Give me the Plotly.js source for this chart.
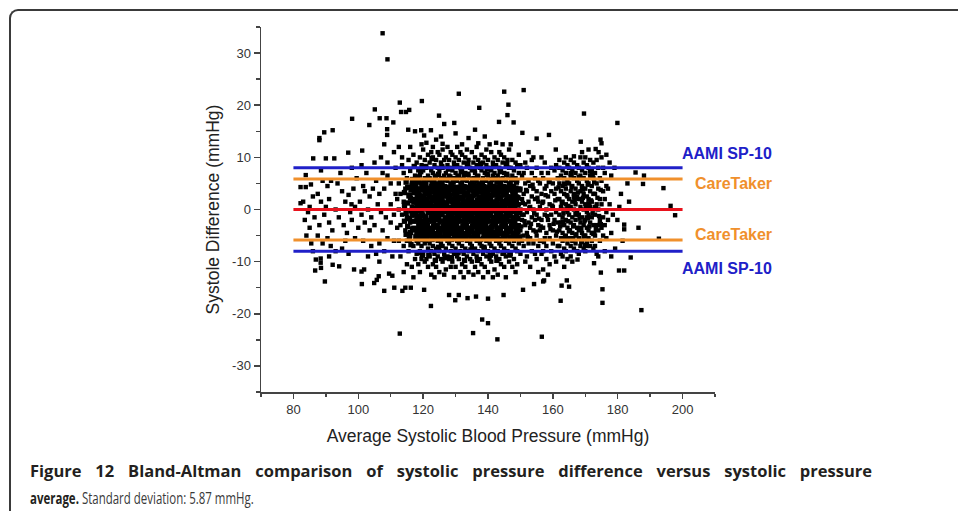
<!DOCTYPE html>
<html><head><meta charset="utf-8">
<script src="https://cdn.plot.ly/plotly-3.0.1.min.js"></script>
<style>
html,body{margin:0;padding:0;background:#fff;overflow:hidden;width:958px;height:511px;}
#frame{position:absolute;left:9px;top:9px;width:1100px;height:700px;border-left:2px solid #3a3a3a;border-top:2px solid #3a3a3a;border-top-left-radius:9px;box-sizing:border-box;}
#chart{position:absolute;left:0;top:0;width:958px;height:511px;}
</style></head><body>
<div id="frame"></div>
<div id="chart"></div>
<script>
// ---- data ----
const xTicks = [80,100,120,140,160,180,200];
const yTicks = [-30,-20,-10,0,10,20,30];
const yTickText = ['-30','-20','-10','0','10','20','30'];
const lineSpan = [80,200];
const refLevels = [8, 5.87, 0, -5.87, -8];
const refNames = ['AAMI SP-10','CareTaker',null,'CareTaker','AAMI SP-10'];
const xTitle = 'Average Systolic Blood Pressure (mmHg)';
const yTitle = 'Systole Difference (mmHg)';
const captionBold = 'Figure 12 Bland-Altman comparison of systolic pressure difference versus systolic pressure';
const captionBold2 = 'average.';
const captionRest = 'Standard deviation: 5.87 mmHg.';

const highPts = [[107.5,33.8],[109,28.8],[131,22.2],[145,22.6],[151,22.9],[119.6,20.8],[112.8,20.5],[146.3,20.1],[137.3,19.5],[105.1,19.2],[115.7,19.1],[114.7,18.7],[113.2,18.7],[146,18.1],[124.9,18],[169.6,18.4],[98.1,17.4],[106.6,17.5],[108.7,17.5],[110.8,16.7],[103.4,16.2],[126.5,16.4],[129.6,16.6],[143.4,16.8],[147.9,16.7],[179.9,16.6],[89.5,14.8],[92.1,15.2],[88,13.7],[88,13.3],[115.4,15.3],[117.5,15],[119.4,15.2],[108.9,15.4],[108.9,14.3],[158.8,14.3],[155,13.6],[150.6,14.7],[174.7,13.4],[175,12.7],[168.6,13],[120.3,14.2],[122.4,15.2],[124,13.4],[125.5,14],[130,14.6],[134,13.7],[136,15.3],[139,14]];
const lowPts = [[112.8,-23.8],[122.4,-18.5],[135.4,-23.7],[142.9,-24.9],[156.6,-24.4],[140,-21.8],[138.2,-21.1],[187.3,-19.3],[175.3,-17.9],[162.4,-17.5],[140,-17.1],[144.8,-16.4],[133.7,-17],[136.3,-16.7],[129.9,-17.4],[128,-16.4],[131,-16.4],[120.3,-15.4],[150.8,-15.4],[175.3,-15.3],[165,-14.8],[162.7,-14.6],[154.2,-14.3],[157,-13.8],[164.3,-13.6],[108,-15.6],[111.1,-15],[113.6,-15.6],[114.5,-15],[116.2,-15],[101.1,-14.3],[104.9,-14.1],[89.7,-13.8]];
const leftPts = [[82.2,4.3],[83.8,4.3],[83.8,6.6],[82.2,1.2],[83,1.5],[84.5,-0.5],[83.5,-2],[85,-3.5],[84,-5],[85.5,-6.5],[86.1,9.8],[85.4,4.8],[86,2.5],[86.5,-1.5],[86.7,-11.7],[86.9,-9.6],[86,-8],[85,0.5],
[90,9.8],[92.6,9.8],[88.5,7.5],[89,5.5],[90.5,4.5],[91.6,5.5],[87.5,3],[88.5,1.5],[90,0.5],[91,2],[89.5,-1],[91,-2.5],[88,-3],[87.5,-5],[89,-6.5],[90.5,-5.5],[91.5,-7],[88.4,-9.4],[88.4,-10.2],[88.5,-11.2],[92.1,-10.6],[91,-9],[92,-4],
[93.6,5],[94.5,7],[95,3.5],[96,1.5],[97,2.8],[97.9,1],[93,0],[94,-1.5],[95.5,-3],[96.5,-4.5],[98,-2],[99,-5.5],[94.1,-10.9],[93,-8],[95,-7.5],[97,-8.5],[96.9,10.9],[98,8],[99.5,6],[98.5,4],[99,0.5],[97.5,-0.5],[98.7,-11.5],[96,-6],[100,-3.5],
[101.2,11.3],[101,8.5],[102.5,7],[101.5,4.5],[103.5,2.5],[102,3.5],[103,0],[104.5,4],[105.5,5.5],[104,-1.5],[101,-1],[102,-2.5],[103.5,-4],[105,-3],[101.5,-6],[104,-7],[105.5,-8.5],[101,-11.9],[101.8,-11.5],[105.7,-13.5],[106.3,-12.8],[103,-9],[100.5,1.5],[105,9],[106,1],
[107.5,7],[106.5,3],[108,4],[109,6.5],[110,5],[111.5,3],[107,-0.5],[108.5,-1.5],[110,-2.5],[111,-1],[107.5,-4],[109,-5.5],[111,-6],[106.5,-6.5],[108,-8],[110.5,-9],[110.5,-12.7],[109.5,-12.3],[107,10],[109,9],[111,11],[108,12.5],[111.5,8],[110,1],[112,-3.5],[106.5,-10]];
const edgePts = [[112.5,12],[113.5,10],[114,7],[115,6],[116,7.4],[117,4.5],[112.5,5],[113,3],[114,1.5],[115.5,2.5],[116.5,0.5],[117.5,2],[112.5,0],[113.5,-1],[115,-1.5],[116,-2.5],[117,-1],[113,-3],[114.5,-4],[116,-5],[117.5,-4],[112.5,-6],[114,-7],[115.5,-8],[117,-7],[113,-9],[115,-10.5],[116.5,-11],[117.5,-9.5],[114,-12],[117,-13],[113.5,8.5],[115.5,9.5],[117,10.5],[116,12],[114.5,4],[116.5,5],[117.5,6.5],[118,-2],[118,1],[118,3.5],[118,-6],[112,2],[115,-6]];
const coreA = [[118,-4.5],[118.5,-3],[118,-1.5],[118.5,0.5],[118,2.5],[118.5,4],[118,5.5],[118.5,7.5],[118,9],[118.5,-6.5],[118,-8.5],[118.5,-10.5],
[119,-5],[119.5,-3.5],[119,-2],[119.5,-0.5],[119,1],[119.5,2.5],[119,4],[119.5,5],[119,6.5],[119.5,8.5],[119,10],[119.5,-7],[119,-8],[119.5,-9.5],[119,-12],[119.5,12.5],
[120,-4],[120.5,-2.5],[120,-1],[120.5,0],[120,1.5],[120.5,3],[120,4.5],[120.5,6],[120,7.5],[120.5,9.5],[120,-5.5],[120.5,-6.5],[120,-8.5],[120.5,-10],[120,11.5],
[121,-4.5],[121.5,-3],[121,-1.5],[121.5,0.5],[121,2],[121.5,3.5],[121,5],[121.5,6.5],[121,8],[121.5,10.5],[121,-6],[121.5,-7.5],[121,-9.5],[121.5,-11],[121,12.8],[121.5,-0.5],
[122,-5],[122.5,-3.5],[122,-2],[122.5,-1],[122,0.5],[122.5,2],[122,3],[122.5,4.5],[122,6],[122.5,7.5],[122,9],[122.5,11],[122,-6.5],[122.5,-8],[122,-9],[122.5,-12.5],
[123,-4],[123.5,-2.5],[123,-1],[123.5,0],[123,1.5],[123.5,3],[123,4],[123.5,5.5],[123,7],[123.5,8.5],[123,10],[123.5,-5.5],[123,-7],[123.5,-8.5],[123,-10.5],[123.5,-13],[123,12],
[124,-4.5],[124.5,-3],[124,-2],[124.5,-0.5],[124,1],[124.5,2.5],[124,3.5],[124.5,5],[124,6.5],[124.5,8],[124,9.5],[124.5,-6],[124,-7.5],[124.5,-9],[124,-11],[124.5,11],[124.5,0.5],
[125,-5],[125.5,-3.5],[125,-1.5],[125.5,0],[125,1.5],[125.5,3],[125,4.5],[125.5,6],[125,7.5],[125.5,9],[125,10.5],[125.5,-6.5],[125,-8],[125.5,-9.5],[125,-12],[125,-2.5],
[126,-4],[126.5,-2.5],[126,-1],[126.5,0.5],[126,2],[126.5,3.5],[126,5],[126.5,6.5],[126,8],[126.5,9.5],[126,11.5],[126.5,-5.5],[126,-7],[126.5,-8.5],[126,-10],[126.5,-12.5],[126,12.6],
[127,-4.5],[127.5,-3],[127,-1.5],[127.5,0],[127,1],[127.5,2.5],[127,4],[127.5,5.5],[127,7],[127.5,8.5],[127,10],[127.5,-6],[127,-7.5],[127.5,-9],[127,-11.5],[127.5,12],[127,-3.5],
[128,-5],[128.5,-3.5],[128,-2],[128.5,-0.5],[128,0.5],[128.5,2],[128,3.5],[128.5,5],[128,6.5],[128.5,8],[128,9.5],[128.5,11],[128,-6.5],[128.5,-8],[128,-9.5],[128.5,-11],[128.5,1.5],
[129,-4],[129.5,-2.5],[129,-1],[129.5,0.5],[129,2],[129.5,3],[129,4.5],[129.5,6],[129,7.5],[129.5,9],[129,10.5],[129.5,-5.5],[129,-7],[129.5,-8.5],[129,-10],[129.5,-13],
[130,-4.5],[130.5,-3],[130,-1.5],[130.5,0],[130,1.5],[130.5,3],[130,4],[130.5,5.5],[130,7],[130.5,8.5],[130,10],[130.5,-6],[130,-7.5],[130.5,-9],[130,-11],[130.5,12],[130.5,-1],
[131,-5],[131.5,-3.5],[131,-2],[131.5,-0.5],[131,1],[131.5,2.5],[131,3.5],[131.5,5],[131,6.5],[131.5,8],[131,9.5],[131.5,11],[131,-6.5],[131.5,-8],[131,-9.5],[131.5,-12],
[132,-4],[132.5,-2.5],[132,-1],[132.5,0.5],[132,2],[132.5,3.5],[132,5],[132.5,6.5],[132,7.5],[132.5,9],[132,10.5],[132.5,-5.5],[132,-7],[132.5,-8.5],[132,-10.5],[132.5,-13],[132,12.5],
[133,-4.5],[133.5,-3],[133,-1.5],[133.5,0],[133,1.5],[133.5,3],[133,4],[133.5,5.5],[133,7],[133.5,8.5],[133,10],[133.5,-6],[133,-7.5],[133.5,-9],[133,-11],[133.5,11.5],[133,-2.5]];
const coreB = [[134,-5],[134.5,-3.5],[134,-2],[134.5,-0.5],[134,1],[134.5,2.5],[134,3.5],[134.5,5],[134,6.5],[134.5,8],[134,9.5],[134.5,-6.5],[134,-8],[134.5,-9.5],[134,-12],[134.5,0.5],
[135,-4],[135.5,-2.5],[135,-1],[135.5,0.5],[135,2],[135.5,3.5],[135,5],[135.5,6],[135,7.5],[135.5,9],[135,11],[135.5,-5.5],[135,-7],[135.5,-8.5],[135,-10],[135.5,-12.5],
[136,-4.5],[136.5,-3],[136,-1.5],[136.5,0],[136,1.5],[136.5,3],[136,4.5],[136.5,5.5],[136,7],[136.5,8.5],[136,10],[136.5,-6],[136,-7.5],[136.5,-9],[136,-11],[136.5,12],
[137,-5],[137.5,-3.5],[137,-2],[137.5,-0.5],[137,1],[137.5,2.5],[137,4],[137.5,5],[137,6.5],[137.5,8],[137,9.5],[137.5,-6.5],[137,-8],[137.5,-9.5],[137,-12],[137,12.7],
[138,-4],[138.5,-2.5],[138,-1],[138.5,0.5],[138,2],[138.5,3],[138,4.5],[138.5,6],[138,7.5],[138.5,9],[138,10.5],[138.5,-5.5],[138,-7],[138.5,-8.5],[138,-10.5],[138.5,-13],
[139,-4.5],[139.5,-3],[139,-1.5],[139.5,0],[139,1.5],[139.5,2.5],[139,4],[139.5,5.5],[139,7],[139.5,8.5],[139,10],[139.5,-6],[139,-7.5],[139.5,-9],[139,-11],[139.5,11.5],
[140,-5],[140.5,-3.5],[140,-2],[140.5,-0.5],[140,1],[140.5,2],[140,3.5],[140.5,5],[140,6.5],[140.5,8],[140,9.5],[140.5,-6.5],[140,-8],[140.5,-9.5],[140,-12],[140.5,12.5],
[141,-4],[141.5,-2.5],[141,-1],[141.5,0.5],[141,2],[141.5,3.5],[141,5],[141.5,6.5],[141,7.5],[141.5,9],[141,11],[141.5,-5.5],[141,-7],[141.5,-8.5],[141,-10],[141.5,-13],
[142,-4.5],[142.5,-3],[142,-1.5],[142.5,0],[142,1.5],[142.5,3],[142,4.5],[142.5,6],[142,7],[142.5,8.5],[142,10],[142.5,-6],[142,-7.5],[142.5,-9],[142,-11.5],[142.5,12.8],
[143,-5],[143.5,-3.5],[143,-2],[143.5,-0.5],[143,1],[143.5,2.5],[143,3.5],[143.5,5],[143,6.5],[143.5,8],[143,9.5],[143.5,-6.5],[143,-8],[143.5,-9.5],[143,-12.5],[143.5,11],
[144,-4],[144.5,-2.5],[144,-1],[144.5,0.5],[144,2],[144.5,3.5],[144,5],[144.5,6],[144,7.5],[144.5,9],[144,10.5],[144.5,-5.5],[144,-7],[144.5,-8.5],[144,-10.5],[144.5,12.5],
[145,-4.5],[145.5,-3],[145,-1.5],[145.5,0],[145,1.5],[145.5,3],[145,4.5],[145.5,5.5],[145,7],[145.5,8.5],[145,10],[145.5,-6],[145,-7.5],[145.5,-9],[145,-11],[145.5,-13],
[146,-5],[146.5,-3.5],[146,-2],[146.5,-0.5],[146,1],[146.5,2.5],[146,4],[146.5,5],[146,6.5],[146.5,8],[146,9.5],[146.5,-6.5],[146,-8],[146.5,-10],[146.5,11.5],
[147,-4],[147.5,-2.5],[147,-1],[147.5,0.5],[147,2],[147.5,3.5],[147,5],[147.5,6.5],[147,8],[147.5,9.5],[147,-5.5],[147.5,-7],[147,-8.5],[147.5,-11],[147,12.5],
[148,-4.5],[148.5,-3],[148,-1.5],[148.5,0],[148,1.5],[148.5,3],[148,4.5],[148.5,6],[148,7.5],[148.5,9],[148,-6],[148.5,-7.5],[148,-9.5],[148.5,-12],
[149,-5],[149.5,-3],[149,-1],[149.5,1],[149,2.5],[149.5,4],[149,5.5],[149.5,7],[149,8.5],[149.5,-6.5],[149,-8],[149.5,10.5],[149,-10.5]];
const coreC = [[114.25,-2.25],[114.25,0.75],[114.25,3.25],[114.75,-4.75],[114.75,-0.75],[114.75,5.25],
[115.25,-3.25],[115.25,1.25],[115.25,4.25],[115.75,-5.75],[115.75,-1.75],[115.75,2.75],
[116.25,-0.25],[116.25,3.75],[116.25,-6.75],[116.75,-3.75],[116.75,1.75],[116.75,5.75],
[117.25,-2.25],[117.25,0.25],[117.25,3.25],[117.75,-5.25],[117.75,-0.75],[117.75,4.75],[117.25,8.25],
[118.25,-3.75],[118.25,-0.25],[118.25,1.75],[118.25,6.25],[118.75,-5.25],[118.75,-2.25],[118.75,2.75],[118.75,5.25],[118.75,-8.25],
[119.25,-4.25],[119.25,-1.25],[119.25,1.75],[119.25,7.25],[119.75,-5.75],[119.75,-2.25],[119.75,0.25],[119.75,3.75],[119.75,-8.75],
[120.25,-3.25],[120.25,0.75],[120.25,2.25],[120.25,5.25],[120.75,-4.75],[120.75,-1.75],[120.75,1.25],[120.75,4.25],[120.75,8.25],
[121.25,-5.25],[121.25,-2.25],[121.25,0.75],[121.25,3.25],[121.75,-3.75],[121.75,-0.25],[121.75,2.75],[121.75,5.75],[121.75,-8.75],
[122.25,-4.25],[122.25,-0.25],[122.25,1.25],[122.25,3.75],[122.75,-5.75],[122.75,-2.25],[122.75,0.25],[122.75,5.25],[122.75,9.75],
[123.25,-3.25],[123.25,-1.75],[123.25,2.25],[123.25,4.75],[123.75,-4.75],[123.75,-0.75],[123.75,1.75],[123.75,6.25],[123.75,-9.75],
[124.25,-5.25],[124.25,-1.25],[124.25,1.75],[124.25,4.25],[124.75,-3.75],[124.75,-1.75],[124.75,3.25],[124.75,6.75],[124.75,-7.25],
[125.25,-4.25],[125.25,-0.75],[125.25,2.25],[125.25,5.25],[125.75,-5.25],[125.75,-2.25],[125.75,0.75],[125.75,3.75],[125.75,8.25],
[126.25,-3.25],[126.25,-0.25],[126.25,2.75],[126.25,4.25],[126.75,-4.75],[126.75,-1.75],[126.75,1.25],[126.75,5.75],[126.75,-9.25],
[127.25,-5.25],[127.25,-2.25],[127.25,0.75],[127.25,3.25],[127.75,-3.75],[127.75,-0.75],[127.75,1.75],[127.75,4.25],[127.75,7.75],
[128.25,-4.25],[128.25,-1.25],[128.25,2.75],[128.25,6.25],[128.75,-5.75],[128.75,-2.25],[128.75,0.25],[128.75,3.75],[128.75,-9.25],
[129.25,-3.25],[129.25,-0.25],[129.25,1.25],[129.25,5.25],[129.75,-4.75],[129.75,-1.75],[129.75,2.25],[129.75,4.25],[129.75,8.25],
[130.25,-5.25],[130.25,-2.25],[130.25,0.75],[130.25,3.25],[130.75,-3.75],[130.75,-0.25],[130.75,1.75],[130.75,6.25],[130.75,-8.25],
[131.25,-4.25],[131.25,-1.25],[131.25,2.25],[131.25,4.25],[131.75,-5.75],[131.75,-2.25],[131.75,0.75],[131.75,3.75],[131.75,7.25],
[132.25,-3.25],[132.25,-0.25],[132.25,1.25],[132.25,5.75],[132.75,-4.75],[132.75,-1.75],[132.75,2.75],[132.75,4.25],[132.75,-9.75],
[133.25,-5.25],[133.25,-2.25],[133.25,0.75],[133.25,2.75],[133.75,-3.75],[133.75,-0.75],[133.75,1.75],[133.75,6.75],[133.75,8.75],
[134.25,-4.25],[134.25,-1.25],[134.25,2.25],[134.25,4.25],[134.75,-5.25],[134.75,-2.25],[134.75,0.25],[134.75,3.75],[134.75,-7.75],
[135.25,-3.25],[135.25,-0.25],[135.25,1.25],[135.25,5.75],[135.75,-4.75],[135.75,-1.75],[135.75,2.75],[135.75,4.75],[135.75,7.75],
[136.25,-5.25],[136.25,-2.25],[136.25,0.75],[136.25,3.25],[136.75,-3.75],[136.75,-0.75],[136.75,1.75],[136.75,6.25],[136.75,-9.75],
[137.25,-4.25],[137.25,-1.25],[137.25,2.25],[137.25,4.75],[137.75,-5.75],[137.75,-2.25],[137.75,0.75],[137.75,3.75],[137.75,8.75],
[138.25,-3.25],[138.25,-0.25],[138.25,1.25],[138.25,5.25],[138.75,-4.75],[138.75,-1.75],[138.75,2.25],[138.75,4.25],[138.75,-7.25],
[139.25,-5.25],[139.25,-2.25],[139.25,0.75],[139.25,3.25],[139.75,-3.75],[139.75,-0.75],[139.75,1.75],[139.75,6.75],[139.75,7.75],
[140.25,-4.25],[140.25,-1.25],[140.25,2.75],[140.25,4.25],[140.75,-5.25],[140.75,-2.25],[140.75,0.25],[140.75,3.75],[140.75,-8.75],
[141.25,-3.25],[141.25,-0.25],[141.25,1.25],[141.25,5.75],[141.75,-4.75],[141.75,-1.75],[141.75,2.75],[141.75,4.25],[141.75,8.25],
[142.25,-5.25],[142.25,-2.25],[142.25,0.75],[142.25,3.25],[142.75,-3.75],[142.75,-0.75],[142.75,1.75],[142.75,5.25],[142.75,-9.75],
[143.25,-4.25],[143.25,-1.25],[143.25,2.25],[143.25,4.25],[143.75,-5.75],[143.75,-2.25],[143.75,0.25],[143.75,3.75],[143.75,7.25],
[144.25,-3.25],[144.25,-0.25],[144.25,1.25],[144.25,5.75],[144.75,-4.75],[144.75,-1.75],[144.75,2.75],[144.75,4.25],[144.75,-8.25],
[145.25,-5.25],[145.25,-2.25],[145.25,0.75],[145.25,3.25],[145.75,-3.75],[145.75,-0.75],[145.75,1.75],[145.75,6.75],[145.75,8.75],
[146.25,-4.25],[146.25,-1.25],[146.25,2.25],[146.25,4.25],[146.75,-5.25],[146.75,-2.25],[146.75,0.25],[146.75,3.75],[146.75,-8.75],
[147.25,-3.25],[147.25,-0.25],[147.25,1.25],[147.25,5.75],[147.75,-4.75],[147.75,-1.75],[147.75,2.75],[147.75,4.25],
[148.25,-5.25],[148.25,-2.25],[148.25,0.75],[148.25,3.25],[148.75,-3.75],[148.75,-0.75],[148.75,1.75],[148.75,5.25],
[149.25,-4.25],[149.25,-1.75],[149.25,2.25],[149.75,-5.25],[149.75,-0.25],[149.75,3.75]];
const coreD = [[116.125,-4.4],[116.625,-1.1],[116.125,2.2],[116.625,4.6],
[117.125,-3.6],[117.625,-0.3],[117.125,1.4],[117.625,3.8],[118.125,-4.9],[118.625,-1.9],[118.125,0.9],[118.625,3.1],
[119.125,-3.1],[119.625,-0.9],[119.125,2.6],[119.625,4.4],[120.125,-4.6],[120.625,-1.4],[120.125,0.4],[120.625,3.6],
[121.125,-3.9],[121.625,-0.6],[121.125,1.6],[121.625,4.1],[122.125,-4.1],[122.625,-1.6],[122.125,2.4],[122.625,3.4],
[123.125,-4.9],[123.625,-0.4],[123.125,0.6],[123.625,4.6],[124.125,-3.4],[124.625,-1.1],[124.125,2.1],[124.625,4.1],
[125.125,-4.4],[125.625,-0.9],[125.125,0.9],[125.625,3.4],[126.125,-3.6],[126.625,-0.4],[126.125,1.4],[126.625,4.4],
[127.125,-4.1],[127.625,-1.9],[127.125,2.6],[127.625,3.1],[128.125,-3.1],[128.625,-1.4],[128.125,0.4],[128.625,4.6],
[129.125,-4.6],[129.625,-0.6],[129.125,1.6],[129.625,3.6],[130.125,-3.9],[130.625,-1.6],[130.125,2.4],[130.625,4.1],
[131.125,-4.1],[131.625,-0.9],[131.125,0.6],[131.625,3.4],[132.125,-4.9],[132.625,-1.1],[132.125,2.1],[132.625,4.4],
[133.125,-3.4],[133.625,-0.4],[133.125,0.9],[133.625,3.1],[134.125,-4.4],[134.625,-1.6],[134.125,1.4],[134.625,4.6],
[135.125,-3.6],[135.625,-0.6],[135.125,2.6],[135.625,3.6],[136.125,-4.6],[136.625,-1.9],[136.125,0.4],[136.625,4.1],
[137.125,-3.1],[137.625,-1.4],[137.125,1.6],[137.625,3.4],[138.125,-4.1],[138.625,-0.9],[138.125,2.4],[138.625,4.4],
[139.125,-3.9],[139.625,-1.1],[139.125,0.6],[139.625,3.1],[140.125,-4.9],[140.625,-0.4],[140.125,2.1],[140.625,4.6],
[141.125,-3.4],[141.625,-1.6],[141.125,0.9],[141.625,3.6],[142.125,-4.4],[142.625,-0.6],[142.125,1.4],[142.625,4.1],
[143.125,-3.6],[143.625,-1.9],[143.125,2.6],[143.625,3.4],[144.125,-4.6],[144.625,-1.4],[144.125,0.4],[144.625,4.4],
[145.125,-3.1],[145.625,-0.9],[145.125,1.6],[145.625,3.1],[146.125,-4.1],[146.625,-1.1],[146.125,2.4],[146.625,4.6],
[147.125,-3.9],[147.625,-0.4],[147.125,0.6],[147.625,3.6],[148.125,-4.9],[148.625,-1.6],[148.125,2.1],[148.625,4.1],
[149.125,-3.4],[149.625,-0.6],[149.125,0.9],
[163.125,-2.4],[164.625,0.6],[165.125,-4.1],[166.625,2.4],[167.125,-0.9],[168.625,-3.6],[169.125,3.9],[170.625,-1.6],[171.125,1.1],[172.625,-4.6],[173.125,0.4],[174.625,-2.9],[165.625,6.9],[168.125,6.1],[170.125,-6.9],[171.625,7.4],[163.625,4.9],[166.125,-5.6],[172.125,6.6],[169.625,-5.1]];
const midPts = [[150,-4],[150.5,-2],[150,0],[150.5,2],[150,4],[150.5,6.5],[150,8.5],[150.5,-6],[150,-8.5],[150.5,-1],
[151,-5],[151.5,-3],[151,-1],[151.5,1],[151,3],[151.5,5],[151,7],[151.5,9],[151,-7],[151.5,-10],
[152,-4.5],[152.5,-2.5],[152,-0.5],[152.5,1.5],[152,3.5],[152.5,5.5],[152,8],[152.5,-6.5],[152,-9],[152.5,11],
[153,-3.5],[153.5,-1.5],[153,0.5],[153.5,2.5],[153,4.5],[153.5,7],[153,-5.5],[153.5,-8],[153,-11],[153.5,9.5],
[154,-4],[154.5,-2],[154,0],[154.5,2],[154,4],[154.5,6],[154,-6.5],[154.5,-8.5],[154,10],
[155,-5],[155.5,-3],[155,-1],[155.5,1.5],[155,3.5],[155.5,5.5],[155,8],[155.5,-7],[155,-9.5],[155.5,-12],
[156,-4],[156.5,-2],[156,0.5],[156.5,3],[156,5],[156.5,7],[156,-6],[156.5,-8.5],[156.5,10],
[157,-3.5],[157.5,-1],[157,1.5],[157.5,4],[157,6],[157.5,-5.5],[157,-8],[157.3,-13.6],[157,-11.5],[157.5,9],
[158,-4.5],[158.5,-2],[158,0],[158.5,2.5],[158,4.5],[158.5,7],[158,-7],[158.5,-12.5],[158,-9.5],
[159,-3],[159.5,-1],[159,1],[159.5,3.5],[159,5.5],[159.5,8],[159,-5.5],[159.5,-8],[159,-10.5],
[160,-4],[160.5,-2],[160,0.5],[160.5,3],[160,5],[160.5,7.5],[160,-6.5],[160.5,-9],[160.9,11.5],
[161,-5],[161.5,-2.5],[161,-0.5],[161.5,2],[161,4],[161.5,6],[161,8.5],[161.5,-7],[161,-10],
[150.25,-3.25],[150.75,1.25],[151.25,-2.25],[151.75,3.75],[152.25,-5.25],[152.75,0.25],[153.25,-2.75],[153.75,4.75],[154.25,-0.75],[154.75,-4.25],[155.25,2.25],[155.75,-1.75],[156.25,-3.25],[156.75,1.25],[157.25,-6.25],[157.75,2.75],[158.25,-1.25],[158.75,5.25],[159.25,-3.75],[159.75,0.75],[160.25,-2.75],[160.75,1.75],[161.25,-4.25],[161.75,4.25]];
const rightPts = [[162,-4],[162.5,-2.5],[162,-1],[162.5,0.5],[162,2],[162.5,3.5],[162,5],[162.5,6.5],[162,8],[162.5,-5.5],[162,-7],[162.5,-8.5],[162,9.5],
[163,-4.5],[163.5,-3],[163,-1.5],[163.5,0],[163,1.5],[163.5,3],[163,4.5],[163.5,6],[163,7.5],[163.5,9],[163,-6],[163.5,-7.5],[163,-9],[163.5,-11],
[164,-5],[164.5,-3.5],[164,-2],[164.5,-0.5],[164,1],[164.5,2.5],[164,4],[164.5,5.5],[164,7],[164.5,8.5],[164,10],[164.5,-6.5],[164,-8],[164.5,-9.5],
[165,-4],[165.5,-2.5],[165,-1],[165.5,0.5],[165,2],[165.5,3.5],[165,5],[165.5,6.5],[165,8],[165.5,9.5],[165,-5.5],[165.5,-7],[165.5,-9],
[166,-4.5],[166.5,-3],[166,-1.5],[166.5,0],[166,1.5],[166.5,3],[166,4.5],[166.5,6],[166,7.5],[166.5,10.2],[166,-6],[166.5,-7.5],[166,-10],[166.5,9],
[167,-5],[167.5,-3.5],[167,-2],[167.5,-0.5],[167,1],[167.5,2.5],[167,4],[167.5,5.5],[167,7],[167.5,8.5],[167.6,-9.6],[167,-6.5],[167.5,-8],
[168,-4],[168.5,-2.5],[168,-1],[168.5,0.5],[168,2],[168.5,3.5],[168,5],[168.5,6.5],[168,8],[168.5,10],[168,-5.5],[168.5,-7],[168,-8.5],
[169,-4.5],[169.5,-3],[169,-1.5],[169.5,0],[169,1.5],[169.5,3],[169,4.5],[169.5,6],[169,7.5],[169.5,9],[169,-6],[169.5,-7.5],[169,11],
[170,-5],[170.5,-3.5],[170,-2],[170.5,-0.5],[170,1],[170.5,2.5],[170,4],[170.5,5.5],[170,7],[170.5,8.5],[170,10],[170.5,-6.5],[170,-8],
[171,-4],[171.5,-2.5],[171,-1],[171.5,0.5],[171,2],[171.5,3.5],[171,5],[171.5,6.5],[171,8],[171.5,9.5],[171,-5.5],[171.5,-7],[171,11.5],
[172,-4.5],[172.5,-3],[172,-1.5],[172.5,0],[172,1.5],[172.5,3],[172,4.5],[172.5,6],[172,7.5],[172.5,9],[172,-6],[172.7,-10.3],[172.5,-7.5],
[173,-5],[173.5,-3],[173,-1],[173.5,1],[173,3],[173.5,5],[173,7],[173.5,9.5],[173.2,11.6],[173,-7],[173.5,-8.5],
[174,-4],[174.5,-2],[174,0],[174.5,2],[174,4],[174.5,6],[174,8],[174.1,11],[174.5,-6],[174.8,-12.1],[174,-9],
[175,-3.5],[175.5,-1.5],[175,1],[175.5,3.5],[175,5.5],[175.5,8],[175.5,-5],[175,10],
[176,-3],[176.5,-0.5],[176,2],[176.5,4.5],[176,7],[176.5,-5.5],[176,-8],[176.5,10.5],
[162.25,-3.25],[162.75,1.25],[163.25,-0.75],[163.75,-5.25],[164.25,2.75],[164.75,-2.25],[165.25,0.25],[165.75,4.25],[166.25,-3.25],[166.75,1.75],[167.25,-4.75],[167.75,3.25],[168.25,-1.75],[168.75,-6.25],[169.25,2.25],[169.75,-2.25],[170.25,0.25],[170.75,4.75],[171.25,-3.25],[171.75,1.75],[172.25,-0.75],[172.75,5.25],[173.25,-3.75],[173.75,2.25],[174.25,-1.25],[174.75,3.75]];
const tailPts = [[177,-2],[177.5,1],[177,4],[178,6.5],[178,-4.5],[178.5,-1],[179.2,-7.5],[179.9,-2],[180.4,-11.7],[182,-11.7],[182,-2.9],[182,-3.8],[181,3],[180.5,0.5],[183,5],[184,-9.2],[185.5,7.1],[188.1,6.5],[187.8,4.9],[186.4,-3.5],[192.7,-5.6],[194.1,4.1],[196.3,0.7],[197.7,-1.1],[179,8],[181.5,-6],[183.5,1.5],[178,-9],[177.5,9]];

// ---- drawing ----
const mainPts = [].concat(highPts, lowPts, leftPts, edgePts, coreA, coreB, midPts, rightPts, tailPts);
const fillPts = [].concat(coreC, coreD);   // points inside the saturated core of the cloud

const lineColors = ['#2020c8', '#f0902c', '#e8121c', '#f0902c', '#2020c8'];
const labelShift = [14, -5, 0, 6, -17];

const traces = [
  {type: 'scatter', mode: 'markers', x: fillPts.map(p => p[0]), y: fillPts.map(p => p[1]),
   marker: {symbol: 'square', size: 5.4, color: '#000', line: {width: 0}}, hoverinfo: 'skip'},
  {type: 'scatter', mode: 'markers', x: mainPts.map(p => p[0]), y: mainPts.map(p => p[1]),
   marker: {symbol: 'square', size: 4.4, color: '#000', line: {width: 0}}, hoverinfo: 'skip', cliponaxis: false}
];
refLevels.forEach((lv, i) => {
  traces.push({type: 'scatter', mode: 'lines', x: lineSpan, y: [lv, lv],
    line: {color: lineColors[i], width: 3}, hoverinfo: 'skip'});
});

const W = 958, H = 511, ML = 261, MR = 243, MT = 27, MB = 119;
const pw = W - ML - MR, ph = H - MT - MB;
const pxX = v => (v - ML) / pw;
const pxY = v => (H - MB - v) / ph;

const capFont = 'Open Sans, sans-serif';
const capLeft = 28, capLine1Right = 870, capLine2Right = 252;
const annotations = [];
refLevels.forEach((lv, i) => {
  if (!refNames[i]) return;
  annotations.push({xref: 'paper', yref: 'y', x: pxX(774), y: lv, yshift: labelShift[i],
    xanchor: 'right', yanchor: 'middle', showarrow: false, text: refNames[i],
    font: {family: 'Liberation Sans, Arial, sans-serif', size: 16, weight: 700, color: lineColors[i]}});
});
annotations.push({xref: 'paper', yref: 'paper', x: pxX(capLeft), y: pxY(471), xanchor: 'left', yanchor: 'middle', align: 'left',
  showarrow: false, text: '<b>' + captionBold + '</b>',
  font: {family: capFont, size: 16.5, color: '#231f20'}});
annotations.push({xref: 'paper', yref: 'paper', x: pxX(capLeft), y: pxY(497), xanchor: 'left', yanchor: 'middle', align: 'left',
  showarrow: false, text: '<b>' + captionBold2 + '</b> <span style="color:#3a3a3a">' + captionRest + '</span>',
  font: {family: capFont, size: 16.5, color: '#231f20'}});

const axFont = {family: 'Liberation Sans, Arial, sans-serif', size: 13, color: '#333'};
const layout = {
  width: W, height: H,
  margin: {l: ML, r: MR, t: MT, b: MB, pad: 0},
  paper_bgcolor: 'rgba(0,0,0,0)', plot_bgcolor: 'rgba(0,0,0,0)',
  showlegend: false,
  xaxis: {range: [70, 210], tickmode: 'array', tickvals: xTicks, ticks: 'outside', ticklen: 5, tickwidth: 1.5,
    tickcolor: '#444', showline: true, linecolor: '#444', linewidth: 1.5, showgrid: false, zeroline: false,
    tickfont: axFont, minor: {dtick: 10, tick0: 0, ticks: 'outside', ticklen: 3, tickwidth: 1.5, tickcolor: '#444', showgrid: false},
    title: {text: xTitle, font: {family: 'Liberation Sans, Arial, sans-serif', size: 17.5, color: '#222'}, standoff: 13}},
  yaxis: {range: [-35, 35], tickmode: 'array', tickvals: yTicks, ticktext: yTickText, ticks: 'outside', ticklen: 6, tickwidth: 1.5,
    tickcolor: '#444', showline: true, linecolor: '#444', linewidth: 1.5, showgrid: false, zeroline: false,
    tickfont: axFont, minor: {dtick: 5, tick0: 0, ticks: 'outside', ticklen: 4, tickwidth: 1.5, tickcolor: '#444', showgrid: false},
    title: {text: yTitle, font: {family: 'Liberation Sans, Arial, sans-serif', size: 17.5, color: '#222'}, standoff: 8}},
  annotations: annotations
};
Plotly.newPlot('chart', traces, layout, {staticPlot: true, displayModeBar: false}).then(gd => {
  // printed caption: first line justified to the text block, last line set narrow
  let line1 = null, line2 = null;
  gd.querySelectorAll('.annotation-text').forEach(t => {
    if (t.textContent === captionBold) line1 = t;
    if (t.textContent.indexOf(captionRest) >= 0) line2 = t;
  });
  if (!line1 || !line2) return;
  const len1 = line1.getComputedTextLength();
  const want1 = capLine1Right - capLeft;
  const gaps = captionBold.split(' ').length - 1;
  if (len1 < want1) line1.style.wordSpacing = ((want1 - len1) / gaps) + 'px';
  const len2 = line2.getComputedTextLength();
  const s = Math.min(1, (capLine2Right - capLeft) / len2);
  const x0 = line2.getBBox().x;
  const prev = line2.getAttribute('transform') || '';
  line2.setAttribute('transform', prev + ' matrix(' + s + ',0,0,1,' + (x0 * (1 - s)) + ',0)');
});
</script>
</body></html>
